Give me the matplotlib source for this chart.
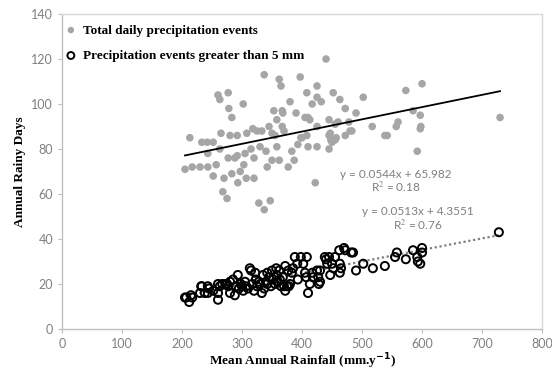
import matplotlib
matplotlib.use("Agg")
import matplotlib.pyplot as plt
import numpy as np

# Ditet me reshje totale (pikat gri)
total_x = [205, 213, 217, 230, 233, 242, 243, 243, 252, 252, 257, 260, 263, 263, 265, 268,
           270, 275, 277, 277, 278, 280, 283, 283, 288, 292, 292, 293, 297, 302, 303, 305,
           307, 308, 315, 318, 320, 320, 325, 328, 330, 333, 337, 337, 340, 342, 345, 347,
           350, 350, 353, 355, 358, 358, 362, 362, 365, 367, 367, 368, 370, 377, 380, 383,
           387, 390, 393, 397, 398, 400, 405, 408, 408, 410, 410, 413, 417, 422, 425, 425,
           425, 425, 432, 440, 445, 445, 445, 447, 448, 450, 452, 455, 455, 457, 460, 463,
           472, 472, 478, 480, 483, 490, 502, 517, 538, 542, 557, 560, 573, 585, 592, 597,
           597, 598, 600, 730]
total_y = [71, 85, 72, 72, 83, 83, 72, 78, 83, 68, 73, 104, 102, 80, 87, 61,
           67, 58, 105, 76, 98, 86, 94, 69, 76, 86, 77, 65, 70, 100, 73, 78,
           67, 87, 80, 89, 76, 67, 88, 56, 81, 88, 113, 53, 79, 72, 90, 57,
           75, 87, 97, 86, 93, 81, 111, 75, 108, 97, 90, 96, 88, 72, 101, 79,
           75, 96, 82, 112, 85, 85, 94, 105, 86, 94, 81, 93, 100, 65, 108, 103,
           90, 81, 101, 120, 93, 80, 86, 87, 84, 83, 105, 91, 84, 85, 92, 102,
           98, 86, 92, 88, 88, 96, 103, 90, 86, 86, 90, 92, 106, 97, 79, 95,
           89, 90, 109, 94]

# Reshjet me te medha se 5 mm (rrathet e zinj)
big_x = [205, 207, 212, 215, 217, 230, 232, 233, 238, 243, 243, 245, 252, 260, 260, 260,
         263, 267, 272, 275, 277, 280, 280, 285, 288, 290, 293, 295, 298, 300, 302, 305,
         307, 310, 313, 315, 317, 320, 322, 323, 325, 328, 330, 333, 335, 337, 340, 342,
         342, 345, 348, 350, 352, 355, 357, 358, 360, 362, 363, 365, 368, 370, 372, 372,
         375, 377, 378, 380, 383, 385, 388, 392, 393, 398, 402, 405, 407, 408, 410, 413,
         417, 418, 425, 427, 428, 430, 430, 438, 440, 442, 445, 447, 450, 452, 455, 462,
         463, 463, 465, 470, 472, 482, 485, 490, 502, 518, 538, 555, 558, 573, 585, 592,
         593, 597, 600, 600, 728]
big_y = [14, 14, 12, 15, 14, 16, 19, 19, 16, 19, 16, 18, 17, 20, 16, 13,
         19, 20, 20, 20, 19, 16, 21, 22, 15, 19, 24, 18, 20, 19, 17, 21,
         19, 18, 27, 26, 20, 17, 25, 22, 19, 21, 20, 16, 24, 18, 21, 20,
         25, 23, 19, 26, 22, 20, 27, 24, 21, 26, 22, 19, 23, 19, 28, 17,
         19, 26, 19, 20, 25, 27, 32, 29, 22, 32, 29, 25, 23, 32, 16, 20,
         25, 23, 26, 23, 20, 26, 21, 32, 31, 29, 32, 24, 29, 27, 32, 35,
         29, 25, 27, 36, 35, 34, 34, 26, 29, 27, 28, 32, 34, 31, 35, 32,
         30, 29, 36, 34, 43]

# Koeficientet e trendit sipas grafikut
slope_total, icpt_total = 0.0544, 65.982
slope_big, icpt_big = 0.0513, 4.3551

fig = plt.figure(figsize=(5.52, 3.72), dpi=100)
ax = fig.add_axes([0.1123, 0.1156, 0.8697, 0.8468])

ax.scatter(total_x, total_y, s=30, color='#a6a6a6', edgecolors='none', zorder=2,
           label='Total daily precipitation events')
ax.scatter(big_x, big_y, s=34, facecolors='none', edgecolors='black', linewidths=1.4,
           zorder=3, label='Precipitation events greater than 5 mm')

xt = np.array([min(total_x), max(total_x)])
ax.plot(xt, slope_total * xt + icpt_total, color='black', lw=1.3, zorder=4)
xb = np.array([min(big_x), max(big_x)])
ax.plot(xb, slope_big * xb + icpt_big, color='#7f7f7f', lw=1.6, ls=(0, (1, 1.2)), zorder=1)

ax.set_xlim(0, 800)
ax.set_ylim(0, 140)
ax.set_xticks(range(0, 801, 100))
ax.set_yticks(range(0, 141, 20))

for sp in ax.spines.values():
    sp.set_color('#d9d9d9')
    sp.set_linewidth(1.0)
ax.spines['left'].set_color('#bfbfbf')
ax.spines['bottom'].set_color('#bfbfbf')
ax.tick_params(axis='both', colors='#bfbfbf', length=3, width=0.8,
               labelcolor='#808080', labelsize=9)
for lbl in ax.get_xticklabels() + ax.get_yticklabels():
    lbl.set_family('Lato')

serif = {'family': 'Liberation Serif', 'weight': 'bold', 'size': 9.5}
plt.rcParams['mathtext.fontset'] = 'stix'
ax.set_xlabel('Mean Annual Rainfall (mm.y$^{\\mathbf{-1}}$)', fontdict=serif, labelpad=1)
ax.set_ylabel('Annual Rainy Days', fontdict=serif, labelpad=4)

leg = ax.legend(loc='upper left', frameon=False, prop={'family': 'Liberation Serif',
                'weight': 'bold', 'size': 9.5}, handletextpad=0.4,
                bbox_to_anchor=(-0.02, 1.005), labelspacing=1.0, handlelength=1.0,
                markerscale=0.85)

eq_style = dict(ha='center', va='center', color='#7f7f7f', fontsize=8.5, family='Lato')
ax.text(557, 68.8, 'y = 0.0544x + 65.982', **eq_style)
ax.text(557, 63.3, 'R$^{2}$ = 0.18', **eq_style)
ax.text(593, 52.3, 'y = 0.0513x + 4.3551', **eq_style)
ax.text(593, 46.3, 'R$^{2}$ = 0.76', **eq_style)

fig.savefig('out.png', dpi=100)
